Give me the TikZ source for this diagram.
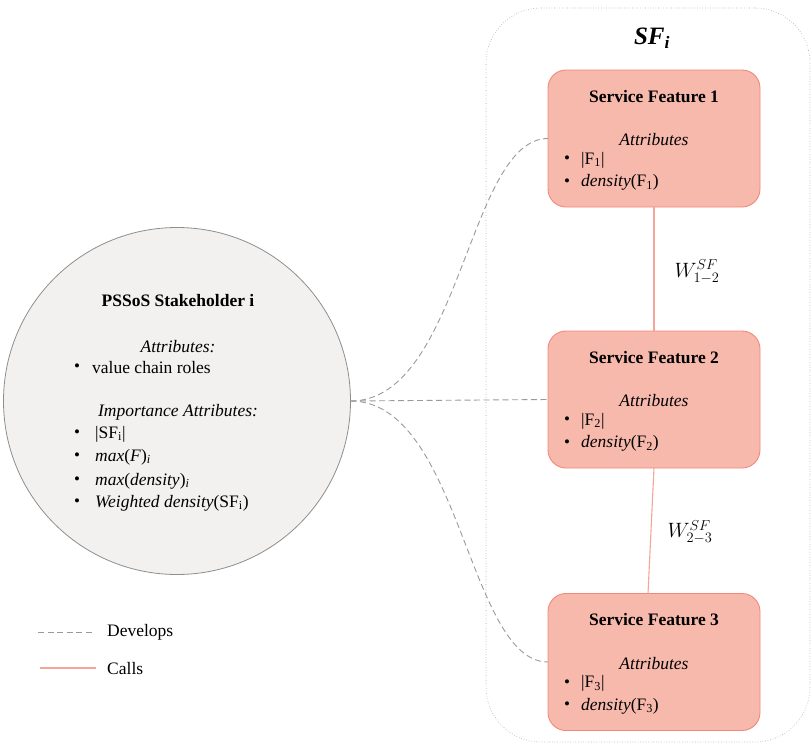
\documentclass[tikz,border=0pt]{standalone}
\usepackage{fontspec}
\setmainfont{Liberation Serif}
\usetikzlibrary{calc}
\definecolor{sffill}{HTML}{F8B9AD}
\definecolor{sfdraw}{HTML}{F2877A}
\definecolor{callc}{HTML}{F5A597}
\definecolor{stfill}{HTML}{F2F1F0}
\definecolor{stdraw}{HTML}{8E8E8E}
\definecolor{devc}{HTML}{9A9A9A}
\tikzset{
  sfbox/.style={draw=sfdraw, fill=sffill, line width=0.9pt, rounded corners=18pt,
    minimum width=212pt, minimum height=137pt, outer sep=0pt},
  container/.style={draw=black!35, dotted, line width=0.6pt, rounded corners=55pt,
    minimum width=324pt, minimum height=734pt, outer sep=0pt},
  stake/.style={circle, draw=stdraw, fill=stfill, line width=0.8pt, minimum size=347pt,
    inner sep=0pt, outer sep=0pt},
  ttl/.style={font=\fontsize{17.5}{20}\selectfont\bfseries, inner sep=0pt},
  txt/.style={font=\fontsize{17.5}{20}\selectfont, inner sep=0pt},
  itxt/.style={font=\fontsize{17.5}{20}\selectfont\itshape, inner sep=0pt},
  bul/.style={font=\fontsize{17}{20}\selectfont, inner sep=0pt},
  develops/.style={draw=devc, dash pattern=on 6pt off 3.5pt, line width=0.9pt},
  calls/.style={draw=callc, line width=1.1pt},
}
\newcommand\sfentry[3]{%
  \node[sfbox] (#1) at (654,#2) {};
  \node[ttl] (#1t) at (654,{#2-42}) {Service Feature #3};
  \node[itxt] (#1a) at (654,{#2+1.5}) {Attributes};
  \node[bul] (#1b1) at (567,{#2+21.5}) {•};
  \node[txt, anchor=west] (#1i1) at (581,{#2+21.5}) {|F\textsubscript{#3}|};
  \node[bul] (#1b2) at (567,{#2+44}) {•};
  \node[txt, anchor=west] (#1i2) at (581,{#2+44}) {\textit{density}(F\textsubscript{#3})};
}
\begin{document}
\begin{tikzpicture}[x=1pt,y=-1pt]
\useasboundingbox (0,0) rectangle (812,745);
% container
\node[container] (sfi) at (648,375) {};
\node[font=\fontsize{25}{28}\selectfont\bfseries\itshape, inner sep=0pt] (sfit) at (652,38) {SF\textsubscript{\textit{i}}};
% stakeholder
\node[stake] (stake) at (177,401) {};
\node[ttl] (stt) at (178,301) {PSSoS Stakeholder i};
\node[itxt] (sta) at (178,347) {Attributes:};
\node[bul] (sb0) at (77,368) {•};
\node[txt, anchor=west] (si0) at (92,368) {value chain roles};
\node[itxt] (sia) at (178,412) {Importance Attributes:};
\node[bul] (sb1) at (77,434) {•};
\node[txt, anchor=west] (si1) at (95,434) {|SF\textsubscript{i}|};
\node[bul] (sb2) at (77,457) {•};
\node[txt, anchor=west] (si2) at (95,457) {\textit{max}(\textit{F})\textsubscript{\textit{i}}};
\node[bul] (sb3) at (77,481) {•};
\node[txt, anchor=west] (si3) at (95,481) {\textit{max}(\textit{density})\textsubscript{\textit{i}}};
\node[bul] (sb4) at (77,503) {•};
\node[txt, anchor=west] (si4) at (95,503) {\textit{Weighted density}(SF\textsubscript{i})};
% service features
\sfentry{sf1}{138.5}{1}
\sfentry{sf2}{399.5}{2}
\sfentry{sf3}{662}{3}
% calls
\draw[calls] (sf1.south) -- (sf2.north);
\draw[calls] (sf2.south) -- ($(sf3.north)+(-6,0)$);
\node[font=\fontsize{20}{22}\selectfont, inner sep=0pt] (w12) at (697,272) {$W^{SF}_{1-2}$};
\node[font=\fontsize{20}{22}\selectfont, inner sep=0pt] (w23) at (690,532) {$W^{SF}_{2-3}$};
% develops
\draw[develops] (stake.east) .. controls +(110,0) and +(-80,0) .. (sf1.west);
\draw[develops] (stake.east) -- (sf2.west);
\draw[develops] (stake.east) .. controls +(110,0) and +(-80,0) .. (sf3.west);
% legend
\coordinate (d1) at (38,632);
\coordinate (d2) at (93,632);
\draw[develops] (d1) -- (d2);
\node[txt, anchor=west] (ldev) at (107,632) {Develops};
\coordinate (c1) at (40,668);
\coordinate (c2) at (96,668);
\draw[calls] (c1) -- (c2);
\node[txt, anchor=west] (lcal) at (107,669) {Calls};
\end{tikzpicture}
\end{document}
